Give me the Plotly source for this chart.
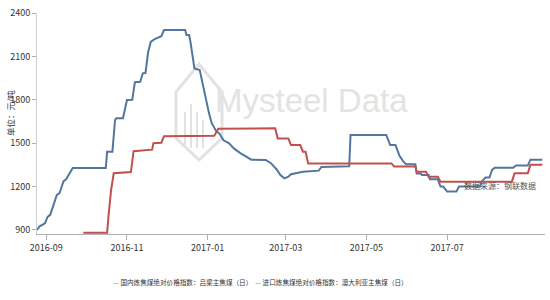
import plotly.graph_objects as go

# ---- data ----
blue_name = "国内炼焦煤绝对价格指数：吕梁主焦煤（日）"
blue_dates = [
    "2016-08-25", "2016-08-27", "2016-08-31", "2016-09-02", "2016-09-04", "2016-09-06",
    "2016-09-09", "2016-09-11", "2016-09-14", "2016-09-16", "2016-09-21", "2016-10-16",
    "2016-10-17", "2016-10-21", "2016-10-23", "2016-10-24", "2016-10-29", "2016-11-01",
    "2016-11-05", "2016-11-07", "2016-11-11", "2016-11-13", "2016-11-15", "2016-11-17",
    "2016-11-19", "2016-11-22", "2016-11-25", "2016-11-27", "2016-11-29", "2016-12-15",
    "2016-12-16", "2016-12-18", "2016-12-19", "2016-12-22", "2016-12-26", "2016-12-28",
    "2016-12-31", "2017-01-02", "2017-01-04", "2017-01-07", "2017-01-10", "2017-01-13",
    "2017-01-17", "2017-01-21", "2017-01-26", "2017-01-30", "2017-02-03", "2017-02-14",
    "2017-02-18", "2017-02-22", "2017-02-25", "2017-02-28", "2017-03-03", "2017-03-05",
    "2017-03-11", "2017-03-14", "2017-03-26", "2017-03-28", "2017-04-18", "2017-04-19",
    "2017-05-16", "2017-05-19", "2017-05-23", "2017-05-26", "2017-05-29", "2017-05-31",
    "2017-06-07", "2017-06-08", "2017-06-11", "2017-06-12", "2017-06-17", "2017-06-18",
    "2017-06-24", "2017-06-26", "2017-06-28", "2017-07-01", "2017-07-08", "2017-07-10",
    "2017-07-26", "2017-07-27", "2017-07-30", "2017-08-02", "2017-08-04", "2017-08-06",
    "2017-08-20", "2017-08-22", "2017-08-31", "2017-09-02", "2017-09-11",
]
blue_values = [
    900, 925, 946, 990, 1004, 1057,
    1142, 1154, 1236, 1250, 1328, 1328,
    1441, 1441, 1660, 1672, 1672, 1798,
    1800, 1922, 1925, 1983, 1985, 2130,
    2200, 2220, 2230, 2240, 2282, 2282,
    2248, 2248, 2200, 2017, 2005, 1915,
    1778, 1708, 1640, 1590, 1565, 1520,
    1500, 1462, 1430, 1405, 1386, 1384,
    1360, 1320, 1280, 1257, 1268, 1285,
    1295, 1303, 1310, 1335, 1340, 1557,
    1557, 1487, 1487, 1412, 1372, 1355,
    1355, 1290, 1290, 1280, 1280, 1250,
    1250, 1200, 1200, 1165, 1165, 1200,
    1200, 1234, 1262, 1262, 1315, 1330,
    1330, 1345, 1345, 1386, 1386,
]

red_name = "进口炼焦煤绝对价格指数：澳大利亚主焦煤（日）"
red_dates = [
    "2016-09-29", "2016-10-17", "2016-10-18", "2016-10-20", "2016-10-22", "2016-11-04",
    "2016-11-06", "2016-11-20", "2016-11-21", "2016-11-27", "2016-11-29", "2017-01-06",
    "2017-01-09", "2017-02-21", "2017-02-23", "2017-03-03", "2017-03-05", "2017-03-12",
    "2017-03-14", "2017-03-16", "2017-03-18", "2017-05-20", "2017-05-22", "2017-06-07",
    "2017-06-08", "2017-06-15", "2017-06-17", "2017-06-24", "2017-06-26", "2017-08-19",
    "2017-08-21", "2017-08-31", "2017-09-02", "2017-09-11",
]
red_values = [
    880, 880, 992, 1176, 1292, 1300,
    1445, 1455, 1500, 1503, 1548, 1552,
    1600, 1603, 1533, 1533, 1487, 1487,
    1441, 1441, 1360, 1360, 1338, 1338,
    1303, 1303, 1268, 1268, 1234, 1234,
    1292, 1292, 1350, 1350,
]

y_ticks = [900, 1200, 1500, 1800, 2100, 2400]
x_ticks = ["2016-09-01", "2016-11-01", "2017-01-01", "2017-03-01", "2017-05-01", "2017-07-01"]
x_tick_labels = ["2016-09", "2016-11", "2017-01", "2017-03", "2017-05", "2017-07"]

# ---- figure ----
BLUE = "#52769c"
RED = "#c0504d"
FONT = "Liberation Sans Narrow, Noto Sans CJK SC, sans-serif"
CJK = "Noto Sans CJK SC, sans-serif"

fig = go.Figure()
fig.add_trace(go.Scatter(x=blue_dates, y=blue_values, mode="lines", name=blue_name,
                         line=dict(color=BLUE, width=2)))
fig.add_trace(go.Scatter(x=red_dates, y=red_values, mode="lines", name=red_name,
                         line=dict(color=RED, width=2)))


def px2paper(px, py):
    return (px - 37) / 508, (234 - py) / 221


# watermark logo
hexa = [(176, 92), (199, 64), (222, 92), (222, 138), (199, 160), (176, 138)]
pts = [px2paper(a, b) for a, b in hexa]
path = "M " + " L ".join(f"{x:.4f},{y:.4f}" for x, y in pts) + " Z"
fig.add_shape(type="path", path=path, xref="paper", yref="paper",
              line=dict(color="#e2e2e2", width=3), layer="below")
for bx, top in [(185, 112), (191, 104), (197, 112), (203, 120)]:
    x0, y0 = px2paper(bx, top)
    x1, y1 = px2paper(bx, 148)
    fig.add_shape(type="line", x0=x0, y0=y0, x1=x1, y1=y1, xref="paper", yref="paper",
                  line=dict(color="#e2e2e2", width=2), layer="below")


def add_text(text, px, py, size, color, family=CJK, angle=0):
    x, y = px2paper(px, py)
    fig.add_annotation(text=text, x=x, y=y, xref="paper", yref="paper",
                       xanchor="center", yanchor="middle", showarrow=False,
                       textangle=angle, font=dict(family=family, size=size, color=color))


add_text("Mysteel Data", 311, 100, 33, "#e3e3e3",
         family="Liberation Sans Narrow, Arial, sans-serif")
add_text("数据来源：钢联数据", 500, 185, 8, "#555555")
add_text("单位：元/吨", 10, 113, 8.5, "#333333", angle=-90)

legend_text = (f"<span style='color:{BLUE}'>—</span> {blue_name}  "
               f"<span style='color:{RED}'>—</span> {red_name}")
add_text(legend_text, 260, 282, 6.6, "#333333")

fig.update_layout(
    width=550, height=300,
    margin=dict(l=37, r=5, t=13, b=66, autoexpand=False),
    paper_bgcolor="white", plot_bgcolor="white",
    font=dict(family=FONT, size=9, color="#333333"),
    showlegend=False,
)
fig.update_xaxes(
    type="date", range=["2016-08-25", "2017-09-13"],
    tickvals=x_ticks, ticktext=x_tick_labels,
    showgrid=False, zeroline=False, showline=True, linecolor="#b0b0b0", linewidth=1,
    ticks="outside", ticklen=5, tickcolor="#b0b0b0",
    tickfont=dict(family=FONT, size=9, color="#333333"),
)
fig.update_yaxes(
    range=[872, 2400], tickvals=y_ticks,
    showgrid=False, zeroline=False, showline=True, linecolor="#d0d0d0", linewidth=1,
    ticks="outside", ticklen=4, tickcolor="#b0b0b0",
    tickfont=dict(family=FONT, size=9, color="#333333"),
)

fig.write_html("out.html")
